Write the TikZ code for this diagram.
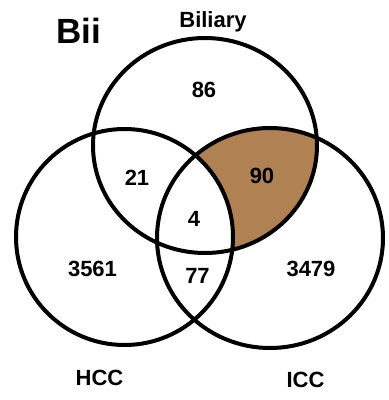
\documentclass[tikz,border=0pt]{standalone}
\usepackage{fontspec}
\setmainfont{Liberation Sans}
\definecolor{venbrown}{RGB}{175,129,83}
\tikzset{
  ring/.style={draw=black, line width=4pt},
  num/.style={anchor=base, inner sep=0pt, font=\bfseries\fontsize{22}{26}\selectfont},
  setlabel/.style={anchor=base, inner sep=0pt, font=\bfseries\fontsize{22}{26}\selectfont},
  panel/.style={anchor=base, inner sep=0pt, font=\bfseries\fontsize{35}{40}\selectfont}
}
\begin{document}
\begin{tikzpicture}[x=1pt,y=-1pt]
\useasboundingbox (0,0) rectangle (389,400);
% shaded region: Biliary and ICC, not HCC
\begin{scope}
  \clip (205,145.5) ellipse [x radius=112, y radius=107.5];
  \clip (270,238) ellipse [x radius=113, y radius=110];
  \fill[venbrown] (0,0) rectangle (389,400);
  \fill[white] (124.5,237) ellipse [x radius=108.5, y radius=108];
\end{scope}
\draw[ring] (205,145.5) ellipse [x radius=112, y radius=107.5];
\draw[ring] (124.5,237) ellipse [x radius=108.5, y radius=108];
\draw[ring] (270,238) ellipse [x radius=113, y radius=110];
\node[panel] (bii) at (78.5,43) {Bii};
\node[setlabel] (bil) at (213,27) {Biliary};
\node[setlabel] (hcc) at (99.5,385) {HCC};
\node[setlabel] (icc) at (305.5,387) {ICC};
\node[num] (n86) at (204,97) {86};
\node[num] (n21) at (137,185) {21};
\node[num] (n90) at (262,183) {90};
\node[num] (n4) at (194,226) {4};
\node[num] (n3561) at (92.5,276) {3561};
\node[num] (n77) at (197.5,283) {77};
\node[num] (n3479) at (311,276) {3479};
\end{tikzpicture}
\end{document}
